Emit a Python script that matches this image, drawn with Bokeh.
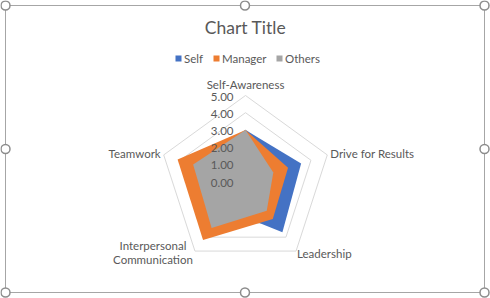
import numpy as np
from bokeh.plotting import figure
from bokeh.models import Range1d
from bokeh.core.properties import value
from bokeh.embed import file_html
from bokeh.resources import INLINE

# ---- data ----
title_text = "Chart Title"
categories = ["Self-Awareness", "Drive for Results", "Leadership",
              "Interpersonal\nCommunication", "Teamwork"]
series_names = ["Self", "Manager", "Others"]
self_vals = [3.0, 3.4, 3.65, 2.0, 3.0]
manager_vals = [3.0, 2.6, 2.7, 4.2, 4.15]
others_vals = [3.0, 1.7, 2.1, 3.35, 3.2]
tick_values = [0, 1, 2, 3, 4, 5]
tick_labels = ["0.00", "1.00", "2.00", "3.00", "4.00", "5.00"]

# ---- style / layout ----
colors = ["#4472C4", "#ED7D31", "#A5A5A5"]
text_color = "#595959"
grid_color = "#D9D9D9"
FONT = value("Lato")
W, H = 490, 298
CX, CY, UNIT = 245, 181, 17.2

n = len(categories)
angles = np.deg2rad(90 - 360.0 / n * np.arange(n))


def to_xy(vals):
    r = np.asarray(vals, dtype=float) * UNIT
    return CX + r * np.cos(angles), CY - r * np.sin(angles)


p = figure(width=W, height=H, output_backend="svg", toolbar_location=None,
           x_range=Range1d(0, W), y_range=Range1d(H, 0), min_border=0,
           background_fill_color="white", border_fill_color="white")
p.axis.visible = False
p.grid.visible = False
p.outline_line_color = None

# grid rings
for v in tick_values[1:]:
    xs, ys = to_xy([v] * n)
    p.line(list(xs) + [xs[0]], list(ys) + [ys[0]], line_color=grid_color, line_width=1)

# filled series
for vals, c in zip([self_vals, manager_vals, others_vals], colors):
    xs, ys = to_xy(vals)
    p.patch(list(xs), list(ys), fill_color=c, line_color=None)

# value tick labels
for v, lab in zip(tick_values, tick_labels):
    p.text(x=[CX - 12], y=[CY - v * UNIT + 1], text=[lab], text_align="right",
           text_baseline="middle", text_font=FONT, text_font_size="11.5px",
           text_color=text_color)

# category labels
vx, vy = to_xy([tick_values[-1]] * n)
label_layout = [
    ("center", 0, -11),
    ("left", 3, -1),
    ("left", 1, 2),
    ("center", -42, 1.5),
    ("right", -3, -1.5),
]
for cat, (al, dx, dy), x0, y0 in zip(categories, label_layout, vx, vy):
    lines = cat.split("\n")
    nl = len(lines)
    for i, ln in enumerate(lines):
        off = (i - (nl - 1) / 2.0) * 14.5
        p.text(x=[x0 + dx], y=[y0 + dy + off], text=[ln], text_align=al,
               text_baseline="middle", text_font=FONT, text_font_size="11.5px",
               text_color=text_color)

# title
p.text(x=[W / 2], y=[27], text=[title_text], text_align="center",
       text_baseline="middle", text_font=FONT, text_font_size="17.5px",
       text_color=text_color)

# legend
leg_sq_x = [178, 216, 279]
leg_y = 58
for name, c, sx in zip(series_names, colors, leg_sq_x):
    p.rect(x=[sx], y=[leg_y], width=6, height=6, fill_color=c, line_color=None)
    p.text(x=[sx + 5.5], y=[leg_y], text=[name], text_align="left",
           text_baseline="middle", text_font=FONT, text_font_size="11.5px",
           text_color=text_color)

# chart frame and selection handles
fx0, fx1, fy0, fy1 = 5, 484, 5, 292
p.line([fx0, fx1, fx1, fx0, fx0], [fy0, fy0, fy1, fy1, fy0],
       line_color="#A6A6A6", line_width=1)
hx = [fx0, (fx0 + fx1) / 2, fx1, fx0, fx1, fx0, (fx0 + fx1) / 2, fx1]
hy = [fy0, fy0, fy0, (fy0 + fy1) / 2, (fy0 + fy1) / 2, fy1, fy1, fy1]
p.scatter(hx, hy, marker="circle", size=9, fill_color="white",
          line_color="#8C8C8C", line_width=1.5)

open("out.html", "w").write(file_html(p, INLINE))
